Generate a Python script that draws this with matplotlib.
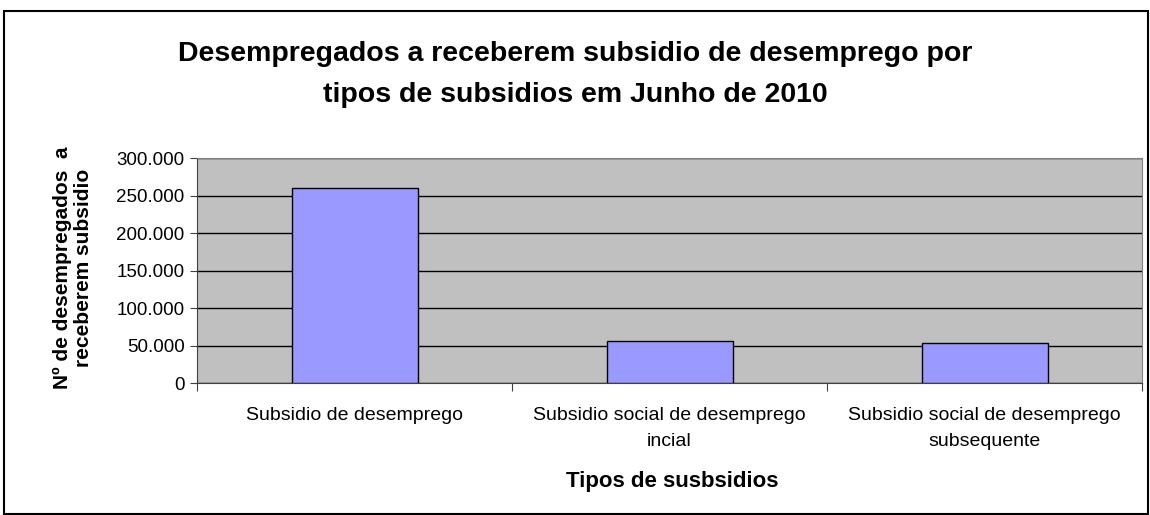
import matplotlib
matplotlib.use("Agg")
import matplotlib.pyplot as plt
from matplotlib.patches import Rectangle
from matplotlib.ticker import FuncFormatter

plt.rcParams["font.family"] = ["Liberation Sans", "DejaVu Sans"]

# Data
categories = ["Subsidio de desemprego",
              "Subsidio social de desemprego\nincial",
              "Subsidio social de desemprego\nsubsequente"]
values = [260000, 55500, 53000]
y_ticks = [0, 50000, 100000, 150000, 200000, 250000, 300000]

fig = plt.figure(figsize=(11.5, 5.15), dpi=100)
fig.patches.append(Rectangle((4 / 1150, 1 / 515), 1144 / 1150, 503 / 515,
                             transform=fig.transFigure, fill=False,
                             edgecolor="black", linewidth=1.5))

ax = fig.add_axes([197 / 1150, 1 - 383 / 515, 945 / 1150, 225 / 515])
ax.set_facecolor("#C0C0C0")
xs = range(len(values))
ax.bar(xs, values, width=0.4, color="#9999FF", edgecolor="black",
       linewidth=1, zorder=3)

ax.set_xlim(-0.5, len(values) - 0.5)
ax.set_ylim(0, 300000)
ax.set_yticks(y_ticks)
ax.yaxis.set_major_formatter(FuncFormatter(lambda v, p: f"{int(v):,}".replace(",", ".")))
ax.grid(axis="y", color="black", linewidth=1, zorder=1)
ax.set_axisbelow(True)

# boundary ticks on x, category labels as minor ticks
ax.set_xticks([i - 0.5 for i in range(len(values) + 1)])
ax.set_xticklabels([])
ax.set_xticks(list(xs), minor=True)
ax.set_xticklabels(categories, minor=True, fontsize=14, linespacing=1.7)
ax.tick_params(axis="x", which="major", length=6, color="#404040")
ax.tick_params(axis="x", which="minor", length=0, pad=17)
ax.tick_params(axis="y", length=5, labelsize=13.5, pad=4, color="#404040")

for side in ["top", "right"]:
    ax.spines[side].set_color("#808080")
for side in ["left", "bottom"]:
    ax.spines[side].set_color("#404040")

fig.text(575 / 1150, 1 - 75 / 515,
         "Desempregados a receberem subsidio de desemprego por\ntipos de subsidios em Junho de 2010",
         ha="center", va="center", fontsize=20.5, fontweight="bold", linespacing=1.75)
fig.text(73 / 1150, 1 - 268 / 515, "Nº de desempregados  a\nreceberem subsidio",
         ha="center", va="center", rotation=90, fontsize=15, fontweight="bold",
         linespacing=1.1)
fig.text(672 / 1150, 1 - 481 / 515, "Tipos de susbsidios",
         ha="center", va="center", fontsize=16, fontweight="bold")

fig.savefig("out.png", dpi=100)
